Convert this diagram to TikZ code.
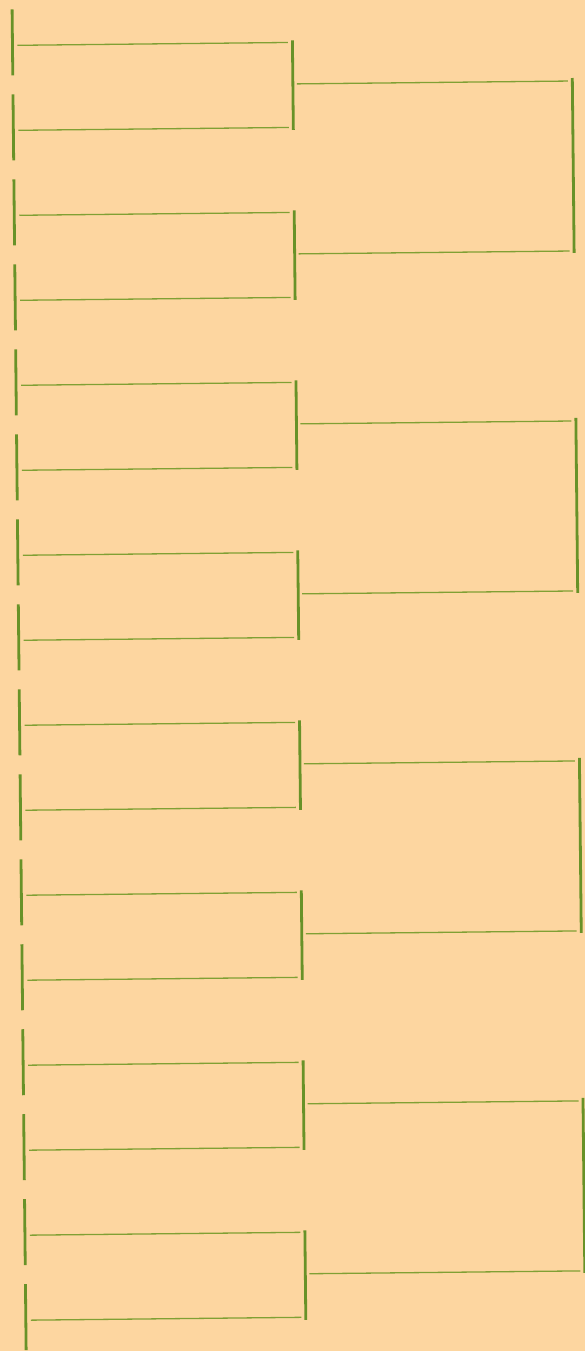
\documentclass[tikz,border=0pt]{standalone}
\definecolor{paper}{RGB}{253,214,160}
\definecolor{brgreen}{RGB}{104,146,40}
\definecolor{thingreen}{RGB}{128,160,52}
\begin{document}
\begin{tikzpicture}[x=1pt,y=-1pt,
  bar/.style={draw=brgreen,line width=2.8pt},
  hline/.style={draw=thingreen,line width=1.3pt}]
\useasboundingbox (0,0) rectangle (585,1351);
\fill[paper] (0,0) rectangle (585,1351);
\clip (0,0) rectangle (585,1351);
\begin{scope}[rotate around={0.6:(0,0)}]
% entries
\foreach \i in {0,...,15}{
  \pgfmathsetmacro\v{45.5+85*\i}
  \coordinate (ea\i) at (12,\v-36);
  \coordinate (eb\i) at (12,\v+30);
  \coordinate (la\i) at (17,\v);
  \coordinate (lb\i) at (287.5,\v);
  \draw[bar] (ea\i) -- (eb\i);
  \draw[hline] (la\i) -- (lb\i);
}
% first round
\foreach \m in {0,...,7}{
  \pgfmathsetmacro\t{45.5+170*\m}
  \coordinate (ra\m) at (292,\t-2);
  \coordinate (rb\m) at (292,\t+87.5);
  \coordinate (oa\m) at (296,\t+41.5);
  \coordinate (ob\m) at (567,\t+41.5);
  \draw[bar] (ra\m) -- (rb\m);
  \draw[hline] (oa\m) -- (ob\m);
}
% second round
\foreach \q in {0,...,3}{
  \pgfmathsetmacro\t{45.5+340*\q+41.5}
  \coordinate (sa\q) at (571.5,\t-3);
  \coordinate (sb\q) at (571.5,\t+172);
  \draw[bar] (sa\q) -- (sb\q);
}
\end{scope}
\end{tikzpicture}
\end{document}
